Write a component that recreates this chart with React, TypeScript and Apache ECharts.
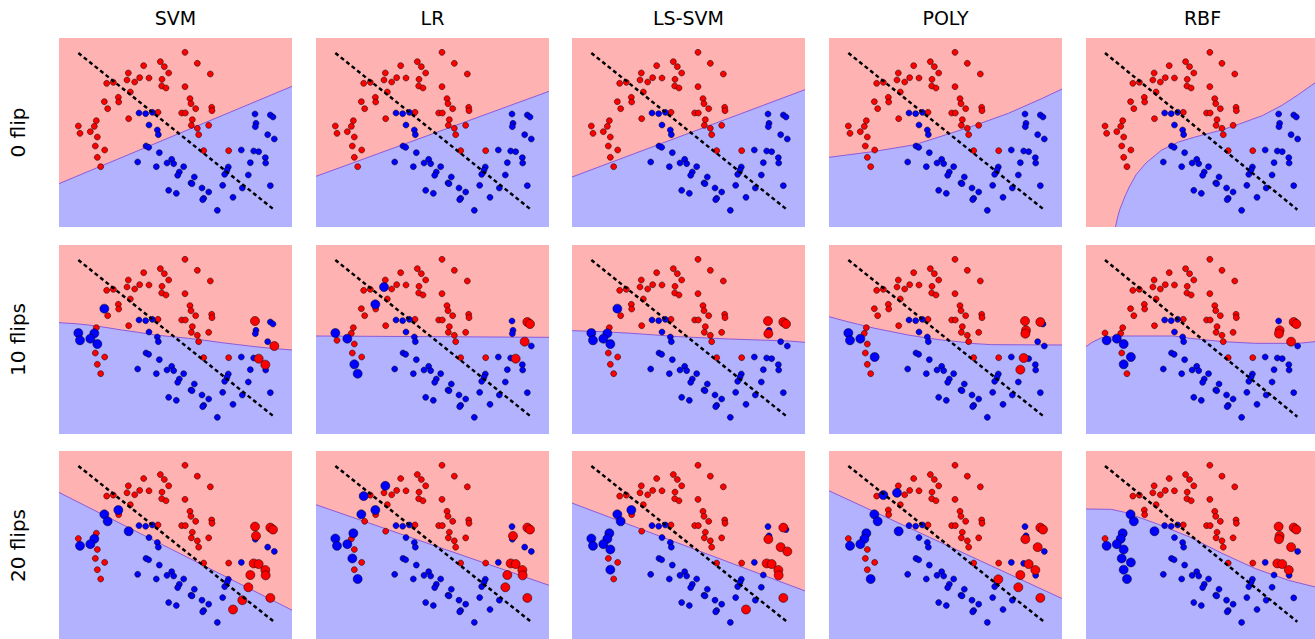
import { useEffect, useRef } from 'react';
import * as echarts from 'echarts';

const methods = ['SVM', 'LR', 'LS-SVM', 'POLY', 'RBF'];
const rowLabels = ['0 flip', '10 flips', '20 flips'];

// sample coordinates (x to the right, y measured downward from the top)
const redPoints: number[][] = [
  [390, 53], [427, 86], [316, 81], [328, 96], [266, 93], [341, 115], [466, 118], [220, 115],
  [254, 129], [282, 130], [216, 136], [239, 142], [321, 134], [155, 146], [175, 143], [320, 154],
  [333, 160], [390, 156], [226, 172], [190, 188], [191, 202], [148, 201], [158, 222], [405, 192],
  [408, 207], [422, 222], [470, 218], [471, 228], [380, 235], [391, 235], [309, 233], [221, 252],
  [412, 255], [409, 272], [427, 281], [461, 272], [431, 300], [70, 274], [75, 296], [124, 258],
  [118, 275], [106, 291], [127, 307], [121, 334], [149, 346], [127, 368], [137, 396], [446, 348],
  [521, 348],
];
const bluePoints: number[][] = [
  [252, 235], [272, 237], [292, 233], [282, 271], [307, 286], [310, 300], [600, 238], [646, 241],
  [654, 247], [603, 266], [601, 276], [638, 300], [658, 313], [273, 334], [281, 338], [313, 354],
  [559, 346], [596, 349], [611, 351], [248, 382], [336, 385], [350, 374], [356, 387], [304, 396],
  [386, 396], [373, 412], [368, 422], [418, 427], [408, 445], [411, 447], [341, 467], [364, 476],
  [441, 460], [461, 472], [446, 491], [443, 495], [503, 452], [509, 419], [520, 397], [516, 406],
  [562, 460], [580, 421], [586, 384], [631, 369], [632, 385], [646, 453], [534, 488], [487, 527],
];
const referenceLine: number[][] = [[70, 55], [657, 525]];

// decision boundaries per row, per method
const boundaries0: number[][][] = [
  [[12, 447], [711, 155]],
  [[12, 425], [711, 170]],
  [[12, 427], [711, 165]],
  [[12, 368], [150, 350], [270, 330], [370, 298], [450, 272], [550, 236], [650, 192], [711, 163]],
  [[102, 577], [108, 550], [115, 525], [123, 505], [133, 480], [144, 457], [165, 420], [195, 385],
   [243, 346], [294, 322], [345, 307], [430, 285], [480, 268], [550, 243], [610, 212],
   [660, 180], [700, 152], [711, 145]],
];
const boundaries10: number[][][] = [
  [[12, 243], [60, 246], [100, 250], [150, 257], [200, 265], [250, 272], [300, 280], [350, 285],
   [400, 290], [450, 296], [500, 303], [550, 309], [600, 315], [650, 320], [711, 325]],
  [[12, 283], [711, 287]],
  [[12, 267], [100, 270], [192, 275], [332, 285], [482, 292], [662, 298], [711, 302]],
  [[12, 225], [60, 238], [100, 248], [150, 260], [200, 270], [250, 280], [300, 288], [350, 295],
   [400, 300], [450, 306], [500, 309], [711, 310]],
  [[12, 315], [30, 302], [60, 288], [130, 283], [280, 283], [330, 290], [430, 300], [530, 305],
   [660, 305], [711, 300]],
];
const boundaries20: number[][][] = [
  [[12, 135], [711, 490]],
  [[12, 172], [711, 415]],
  [[12, 167], [711, 432]],
  [[12, 130], [711, 455]],
  [[12, 185], [90, 186], [130, 195], [230, 230], [330, 270], [430, 320], [530, 365], [630, 400],
   [711, 420]],
];
const boundaries = [boundaries0, boundaries10, boundaries20];

// flipped labels (indices into redPoints / bluePoints)
const redFlipped10: number[][] = [
  [21, 37, 38, 40, 41, 42], [10, 19, 37, 41, 45, 46], [21, 37, 38, 40, 41, 42],
  [37, 38, 41, 44], [38, 41, 42, 44, 45],
];
const blueFlipped10: number[][] = [
  [6, 12, 18, 43], [7, 8, 11, 18], [6, 7, 8, 10], [6, 7, 9, 10, 17, 42], [7, 8, 9, 10, 11],
];
const redFlipped20: number[][] = [
  [19, 21, 22, 31, 38, 40, 41], [7, 13, 19, 21, 37, 38, 39, 41, 43, 46],
  [19, 21, 22, 37, 38, 39, 40, 41, 42, 45], [10, 14, 21, 22, 31, 38, 39, 40, 41, 46],
  [21, 22, 31, 38, 39, 40, 41, 42, 43, 44, 45, 46],
];
const blueFlipped20: number[][] = [
  [6, 9, 7, 8, 17, 18, 43, 44, 42, 41, 40, 45, 46], [7, 8, 9, 17, 18, 43, 44, 42, 41, 45],
  [7, 10, 11, 12, 17, 18, 43, 44, 45, 46], [7, 8, 10, 11, 18, 43, 42, 38, 41, 45],
  [6, 7, 8, 9, 10, 11, 17, 18, 43],
];
const redFlipped = [[[], [], [], [], []], redFlipped10, redFlipped20] as number[][][];
const blueFlipped = [[[], [], [], [], []], blueFlipped10, blueFlipped20] as number[][][];

const colLefts = [59, 316, 572, 829, 1086];
const rowTops = [38, 245, 451];
const PW = 233;
const PH = 189;
const FONT = 'DejaVu Sans';

export default function App() {
  const ref = useRef<HTMLDivElement>(null);
  useEffect(() => {
    if (!ref.current) return;
    const chart = echarts.init(ref.current, undefined, { renderer: 'svg' });
    const grid: any[] = [];
    const xAxis: any[] = [];
    const yAxis: any[] = [];
    const series: any[] = [];
    const graphic: any[] = [];
    for (let r = 0; r < 3; r++) {
      for (let c = 0; c < 5; c++) {
        const i = r * 5 + c;
        grid.push({
          left: colLefts[c], top: rowTops[r], width: PW, height: PH,
          show: true, backgroundColor: '#ffb2b2', borderWidth: 0,
        });
        xAxis.push({ type: 'value', gridIndex: i, min: 12, max: 711, show: false });
        yAxis.push({ type: 'value', gridIndex: i, min: 10, max: 577, inverse: true, show: false });
        const rf = redFlipped[r][c];
        const bf = blueFlipped[r][c];
        series.push({
          type: 'line', xAxisIndex: i, yAxisIndex: i, data: boundaries[r][c], symbol: 'none',
          silent: true, z: 1,
          lineStyle: { color: '#8c5ad8', width: 1 },
          areaStyle: { color: '#b2b2ff', opacity: 1, origin: 'end' },
        });
        series.push({
          type: 'scatter', xAxisIndex: i, yAxisIndex: i, symbolSize: 6, z: 3, silent: true,
          data: redPoints.filter((_, k) => !rf.includes(k)),
          itemStyle: { color: '#ff0000', borderColor: '#000', borderWidth: 0.5, opacity: 1 },
        });
        series.push({
          type: 'scatter', xAxisIndex: i, yAxisIndex: i, symbolSize: 6, z: 3, silent: true,
          data: bluePoints.filter((_, k) => !bf.includes(k)),
          itemStyle: { color: '#0000ff', borderColor: '#000', borderWidth: 0.5, opacity: 1 },
        });
        series.push({
          type: 'scatter', xAxisIndex: i, yAxisIndex: i, symbolSize: 9, z: 4, silent: true,
          data: rf.map((k) => redPoints[k]),
          itemStyle: { color: '#0000ff', borderColor: '#000', borderWidth: 0.5, opacity: 1 },
        });
        series.push({
          type: 'scatter', xAxisIndex: i, yAxisIndex: i, symbolSize: 9, z: 4, silent: true,
          data: bf.map((k) => bluePoints[k]),
          itemStyle: { color: '#ff0000', borderColor: '#000', borderWidth: 0.5, opacity: 1 },
        });
        series.push({
          type: 'line', xAxisIndex: i, yAxisIndex: i, data: referenceLine, symbol: 'none',
          silent: true, z: 5,
          lineStyle: { color: '#000', width: 2.5, type: [4, 3] },
        });
      }
    }
    methods.forEach((m, c) => {
      graphic.push({
        type: 'text', x: colLefts[c] + PW / 2, y: 18,
        style: { text: m, font: `19px "${FONT}"`, fill: '#000', textAlign: 'center', textVerticalAlign: 'middle' },
      });
    });
    rowLabels.forEach((t, r) => {
      graphic.push({
        type: 'text', x: 18, y: rowTops[r] + PH / 2, rotation: Math.PI / 2,
        style: { text: t, font: `20px "${FONT}"`, fill: '#000', textAlign: 'center', textVerticalAlign: 'middle' },
      });
    });
    chart.setOption({ animation: false, grid, xAxis, yAxis, series, graphic });
    return () => chart.dispose();
  }, []);
  return (
    <div
      ref={ref}
      style={{ position: 'fixed', left: 0, top: 0, width: 1315, height: 639, background: '#fff' }}
    />
  );
}
